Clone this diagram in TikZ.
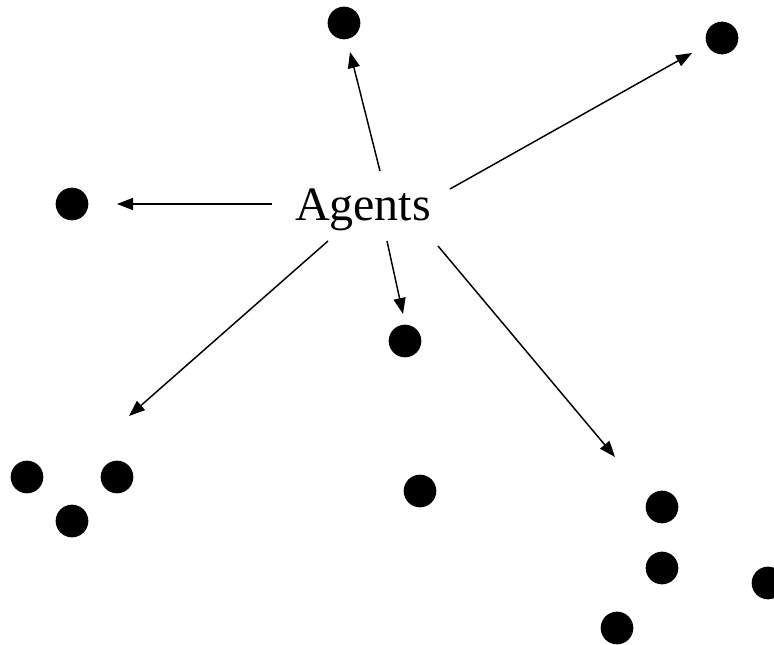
\documentclass[tikz,border=0pt]{standalone}
\usepackage{fontspec}
\setmainfont{Liberation Serif}
\usetikzlibrary{arrows.meta}
\begin{document}
\begin{tikzpicture}[x=0.75pt,y=-0.75pt,
  dot/.style={circle,fill=black,draw=none,minimum size=24.5pt,inner sep=0pt},
  arr/.style={line width=1.1pt,-{Triangle[length=12pt,width=9pt]}}]
\useasboundingbox (0,0) rectangle (774,645);
% dots
\node[dot] (d1) at (344,23) {};
\node[dot] (d2) at (722,38) {};
\node[dot] (d3) at (72,204) {};
\node[dot] (d4) at (405,341) {};
\node[dot] (d5) at (27,477) {};
\node[dot] (d6) at (117,477) {};
\node[dot] (d7) at (72,521) {};
\node[dot] (d8) at (420,491) {};
\node[dot] (d9) at (662,507) {};
\node[dot] (d10) at (662,568) {};
\node[dot] (d11) at (768,583) {};
\node[dot] (d12) at (617,628) {};
% label
\node[font=\fontsize{36pt}{40pt}\selectfont,inner sep=0pt,anchor=base] (ag) at (363,221) {Agents};
% arrow ends
\coordinate (s1) at (380,171);
\coordinate (e1) at (350,52);
\coordinate (s2) at (450,189);
\coordinate (e2) at (692,53);
\coordinate (s3) at (272,204);
\coordinate (e3) at (117,204);
\coordinate (s4) at (387,241);
\coordinate (e4) at (403,314);
\coordinate (s5) at (328,241);
\coordinate (e5) at (129,416);
\coordinate (s6) at (438,246);
\coordinate (e6) at (615,457);
\draw[arr] (s1) -- (e1);
\draw[arr] (s2) -- (e2);
\draw[arr] (s3) -- (e3);
\draw[arr] (s4) -- (e4);
\draw[arr] (s5) -- (e5);
\draw[arr] (s6) -- (e6);
\end{tikzpicture}
\end{document}
